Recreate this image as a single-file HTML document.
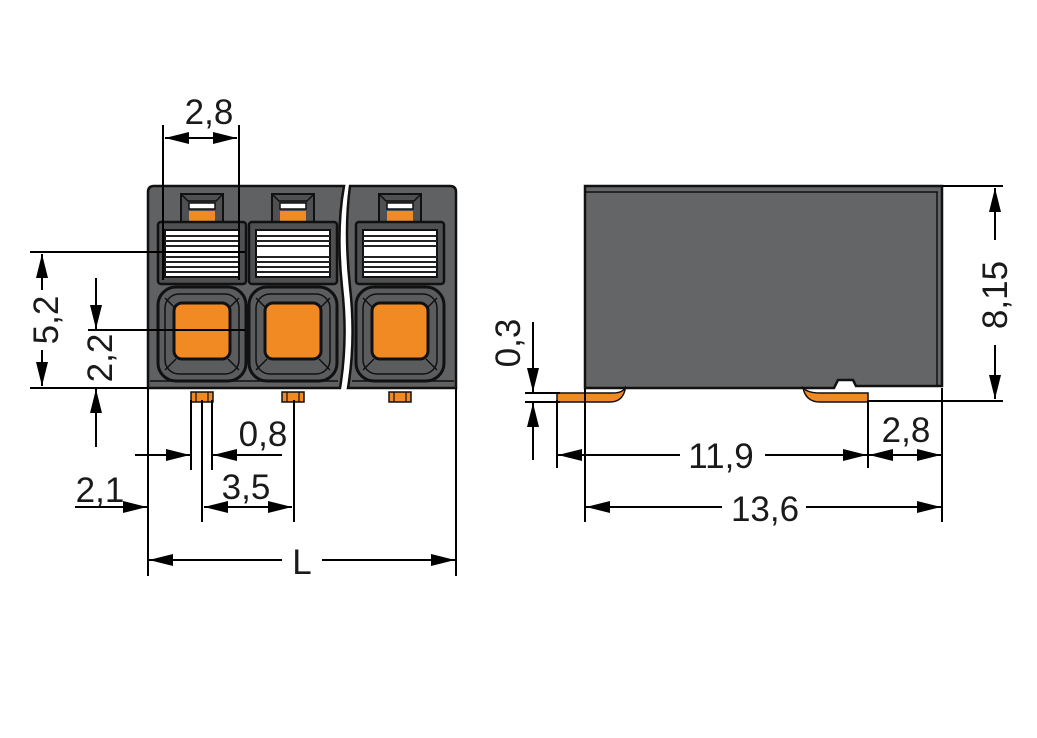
<!DOCTYPE html>
<html><head><meta charset="utf-8"><style>
html,body{margin:0;padding:0;background:#fff;}
svg{display:block;}
text{font-family:"Liberation Sans",sans-serif;font-size:35px;fill:#1a1a1a;}
</style></head><body>
<svg width="1037" height="738" viewBox="0 0 1037 738" xmlns="http://www.w3.org/2000/svg">
<defs>
<marker id="a" viewBox="0 0 24 12" refX="24" refY="6" markerWidth="24" markerHeight="12" markerUnits="userSpaceOnUse" orient="auto"><path d="M0,0 L24,6 L0,12 Z" fill="#000"/></marker>
<g id="pole">
  <path d="M-21,194 L21,194 L21,222 L-21,222 Z" fill="#4e5052" stroke="#111" stroke-width="2"/>
  <path d="M-21,194 L-14,201 L14,201 L21,194" fill="none" stroke="#111" stroke-width="1.5"/>
  <rect x="-13" y="203" width="26" height="6" fill="#fff" stroke="#111" stroke-width="1.5"/>
  <rect x="-13" y="211" width="26" height="17" fill="#f28a24"/>
  <rect x="-44" y="222" width="88" height="62" rx="3" fill="#4e5052" stroke="#111" stroke-width="2.5"/>
  <rect x="-37" y="230" width="74" height="47" fill="#fff" stroke="#111" stroke-width="2"/>
  <g stroke="#222" stroke-width="2">
    <line x1="-37" y1="236" x2="37" y2="236"/>
    <line x1="-37" y1="241" x2="37" y2="241"/>
    <line x1="-37" y1="246" x2="37" y2="246"/>
    <line x1="-37" y1="257" x2="37" y2="257"/>
    <line x1="-37" y1="262" x2="37" y2="262"/>
    <line x1="-37" y1="267" x2="37" y2="267"/>
    <line x1="-37" y1="272" x2="37" y2="272"/>
  </g>
  <rect x="-44" y="287" width="88" height="94" rx="18" fill="#5a5c5e" stroke="#111" stroke-width="3"/>
  <rect x="-37" y="294" width="74" height="80" rx="14" fill="none" stroke="#111" stroke-width="1.5"/>
  <g stroke="#111" stroke-width="1.5">
    <line x1="-37" y1="298" x2="-26" y2="309"/><line x1="37" y1="298" x2="26" y2="309"/>
    <line x1="-37" y1="370" x2="-26" y2="359"/><line x1="37" y1="370" x2="26" y2="359"/>
  </g>
  <rect x="-28" y="303" width="56" height="56" rx="8" fill="#f28a24" stroke="#111" stroke-width="3"/>
  <rect x="-11" y="392" width="22" height="10" fill="#f28a24" stroke="#111" stroke-width="1.5"/>
  <line x1="-6" y1="392" x2="-6" y2="402" stroke="#111" stroke-width="1.2"/>
  <line x1="6" y1="392" x2="6" y2="402" stroke="#111" stroke-width="1.2"/>
</g>
</defs>

<path d="M148,192 Q148,186 154,186 L344,186 Q336,230 342,287 Q348,340 340,388 L148,388 Z" fill="#5f6163" stroke="#111" stroke-width="2.5"/>
<path d="M350,186 L450,186 Q456,186 456,192 L456,388 L348,388 Q356,340 350,287 Q344,230 350,186 Z" fill="#5f6163" stroke="#111" stroke-width="2.5"/>
<line x1="150" y1="381" x2="338" y2="381" stroke="#111" stroke-width="1.5"/>
<line x1="352" y1="381" x2="454" y2="381" stroke="#111" stroke-width="1.5"/>
<use href="#pole" x="202" y="0"/>
<use href="#pole" x="293" y="0"/>
<use href="#pole" x="400" y="0"/>

<path d="M585,186 L942,186 L942,386 L856,386 L853,380 L838,380 L834,388 L585,388 Z" fill="#636567" stroke="#111" stroke-width="2.5"/>
<line x1="586" y1="192" x2="938" y2="192" stroke="#111" stroke-width="1.5"/>
<line x1="937" y1="192" x2="937" y2="386" stroke="#111" stroke-width="1.5"/>
<path d="M557,393 L613,393 Q622,393 625,388 L625,390 Q622,402 610,402 L557,402 Z" fill="#f28a24" stroke="#111" stroke-width="1.5"/>
<path d="M868,393 L820,393 Q808,393 803,388 Q806,402 820,402 L868,402 Z" fill="#f28a24" stroke="#111" stroke-width="1.5"/>

<g stroke="#000" stroke-width="2" fill="none">
<line x1="163" y1="125" x2="163" y2="280"/>
<line x1="239" y1="125" x2="239" y2="280"/>
<line x1="165" y1="138" x2="237" y2="138" marker-end="url(#a)"/>
<line x1="237" y1="138" x2="165" y2="138" marker-end="url(#a)"/>
<line x1="30" y1="252" x2="245" y2="252"/>
<line x1="30" y1="388" x2="148" y2="388"/>
<line x1="42" y1="290" x2="42" y2="254" marker-end="url(#a)"/>
<line x1="42" y1="350" x2="42" y2="386" marker-end="url(#a)"/>
<line x1="88" y1="330" x2="245" y2="330"/>
<line x1="96" y1="278" x2="96" y2="329" marker-end="url(#a)"/>
<line x1="96" y1="447" x2="96" y2="389" marker-end="url(#a)"/>
<line x1="191" y1="400" x2="191" y2="470"/>
<line x1="212" y1="400" x2="212" y2="470"/>
<line x1="135" y1="455" x2="190" y2="455" marker-end="url(#a)"/>
<line x1="282" y1="455" x2="213" y2="455" marker-end="url(#a)"/>
<line x1="202" y1="400" x2="202" y2="522"/>
<line x1="294" y1="400" x2="294" y2="522"/>
<line x1="204" y1="507" x2="292" y2="507" marker-end="url(#a)"/>
<line x1="292" y1="507" x2="204" y2="507" marker-end="url(#a)"/>
<line x1="75" y1="507" x2="147" y2="507" marker-end="url(#a)"/>
<line x1="148" y1="388" x2="148" y2="576"/>
<line x1="456" y1="388" x2="456" y2="576"/>
<line x1="282" y1="560" x2="149" y2="560" marker-end="url(#a)"/>
<line x1="322" y1="560" x2="455" y2="560" marker-end="url(#a)"/>
<line x1="942" y1="186" x2="1003" y2="186"/>
<line x1="868" y1="401" x2="1003" y2="401"/>
<line x1="995" y1="240" x2="995" y2="188" marker-end="url(#a)"/>
<line x1="995" y1="345" x2="995" y2="399" marker-end="url(#a)"/>
<line x1="525" y1="393" x2="560" y2="393"/>
<line x1="525" y1="402" x2="560" y2="402"/>
<line x1="533" y1="322" x2="533" y2="392" marker-end="url(#a)"/>
<line x1="533" y1="460" x2="533" y2="403" marker-end="url(#a)"/>
<line x1="557" y1="400" x2="557" y2="468"/>
<line x1="868" y1="400" x2="868" y2="468"/>
<line x1="585" y1="388" x2="585" y2="522"/>
<line x1="942" y1="388" x2="942" y2="522"/>
<line x1="680" y1="455" x2="558" y2="455" marker-end="url(#a)"/>
<line x1="765" y1="455" x2="867" y2="455" marker-end="url(#a)"/>
<line x1="941" y1="455" x2="869" y2="455" marker-end="url(#a)"/>
<line x1="869" y1="455" x2="941" y2="455" marker-end="url(#a)"/>
<line x1="722" y1="507" x2="586" y2="507" marker-end="url(#a)"/>
<line x1="806" y1="507" x2="941" y2="507" marker-end="url(#a)"/>
</g>

<text x="209" y="124" text-anchor="middle">2,8</text>
<text transform="translate(58,320) rotate(-90)" text-anchor="middle">5,2</text>
<text transform="translate(112,358) rotate(-90)" text-anchor="middle">2,2</text>
<text x="263" y="446" text-anchor="middle">0,8</text>
<text x="246" y="499" text-anchor="middle">3,5</text>
<text x="100" y="502" text-anchor="middle">2,1</text>
<text x="302" y="574" text-anchor="middle">L</text>
<text transform="translate(1007,295) rotate(-90)" text-anchor="middle">8,15</text>
<text transform="translate(520,343) rotate(-90)" text-anchor="middle">0,3</text>
<text x="721" y="468" text-anchor="middle">11,9</text>
<text x="906" y="442" text-anchor="middle">2,8</text>
<text x="765" y="521" text-anchor="middle">13,6</text>
</svg>
</body></html>
